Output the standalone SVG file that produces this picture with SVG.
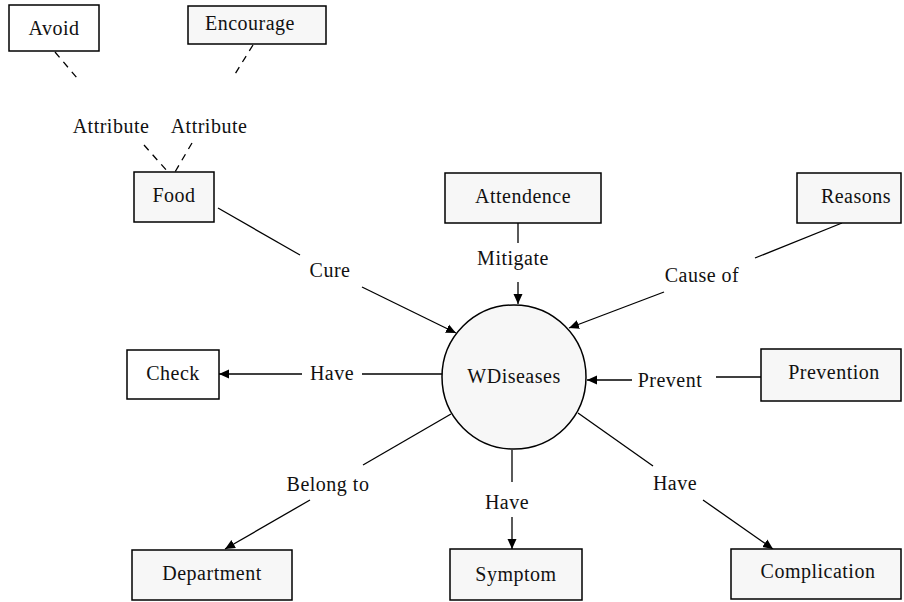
<svg xmlns="http://www.w3.org/2000/svg" width="904" height="602" viewBox="0 0 904 602">
<defs>
<style>
.box{stroke:#000;stroke-width:1.5;fill:#f7f7f7}
.w{fill:#fff}
.t{font-family:"Liberation Serif","Times New Roman",serif;font-size:20px;letter-spacing:0.5px;fill:#111;text-anchor:middle}
.ln{stroke:#000;stroke-width:1.3;fill:none}
.d{stroke-dasharray:7,6}
</style>
<marker id="ah" viewBox="0 0 10 10" refX="10" refY="5" markerWidth="10" markerHeight="10" markerUnits="userSpaceOnUse" orient="auto">
<path d="M0,0.5 L10,5 L0,9.5 Z" fill="#000"/>
</marker>
</defs>
<rect width="904" height="602" fill="#fff"/>
<g id="connectors">
<line class="ln d" x1="55" y1="52" x2="77" y2="78"/>
<line class="ln d" x1="253" y1="45" x2="235" y2="74"/>
<line class="ln d" x1="144" y1="145" x2="168" y2="172"/>
<line class="ln d" x1="192" y1="143" x2="175" y2="172"/>
<line class="ln" x1="218" y1="208" x2="300" y2="255"/>
<line class="ln" x1="362" y1="287" x2="456" y2="333" marker-end="url(#ah)"/>
<line class="ln" x1="518" y1="223" x2="518" y2="243"/>
<line class="ln" x1="518" y1="282" x2="518" y2="304" marker-end="url(#ah)"/>
<line class="ln" x1="842" y1="223" x2="755" y2="258"/>
<line class="ln" x1="664" y1="292" x2="569" y2="328" marker-end="url(#ah)"/>
<line class="ln" x1="761" y1="377" x2="716" y2="377"/>
<line class="ln" x1="632" y1="380" x2="587" y2="380" marker-end="url(#ah)"/>
<line class="ln" x1="443" y1="374" x2="362" y2="374"/>
<line class="ln" x1="302" y1="374" x2="219" y2="374" marker-end="url(#ah)"/>
<line class="ln" x1="451" y1="414" x2="363" y2="465"/>
<line class="ln" x1="310" y1="500" x2="225" y2="549" marker-end="url(#ah)"/>
<line class="ln" x1="512" y1="450" x2="512" y2="482"/>
<line class="ln" x1="512" y1="517" x2="512" y2="549" marker-end="url(#ah)"/>
<line class="ln" x1="578" y1="413" x2="653" y2="466"/>
<line class="ln" x1="703" y1="500" x2="773" y2="549" marker-end="url(#ah)"/>
</g>
<g id="labels">
<text class="t" x="111" y="133">Attribute</text>
<text class="t" x="209" y="133">Attribute</text>
<text class="t" x="330" y="277">Cure</text>
<text class="t" x="513" y="265">Mitigate</text>
<text class="t" x="702" y="282">Cause of</text>
<text class="t" x="670" y="387">Prevent</text>
<text class="t" x="332" y="380">Have</text>
<text class="t" x="328" y="491">Belong to</text>
<text class="t" x="507" y="509">Have</text>
<text class="t" x="675" y="490">Have</text>
</g>
<g id="WDiseases">
<circle cx="514" cy="377" r="72" class="box"/>
<text class="t" x="514" y="383">WDiseases</text>
</g>
<g id="Avoid"><rect x="9" y="5" width="90" height="46" class="box w"/><text class="t" x="54" y="35">Avoid</text></g>
<g id="Encourage"><rect x="188" y="6" width="138" height="38" class="box"/><text class="t" x="250" y="30">Encourage</text></g>
<g id="Food"><rect x="134" y="172" width="80" height="50" class="box"/><text class="t" x="174" y="202">Food</text></g>
<g id="Attendence"><rect x="445" y="173" width="156" height="50" class="box"/><text class="t" x="523" y="203">Attendence</text></g>
<g id="Reasons"><rect x="797" y="173" width="104" height="50" class="box"/><text class="t" x="856" y="203">Reasons</text></g>
<g id="Check"><rect x="127" y="350" width="92" height="49" class="box w"/><text class="t" x="173" y="380">Check</text></g>
<g id="Prevention"><rect x="761" y="349" width="140" height="52" class="box"/><text class="t" x="834" y="379">Prevention</text></g>
<g id="Department"><rect x="132" y="550" width="160" height="50" class="box"/><text class="t" x="212" y="580">Department</text></g>
<g id="Symptom"><rect x="450" y="549" width="132" height="51" class="box"/><text class="t" x="516" y="581">Symptom</text></g>
<g id="Complication"><rect x="731" y="549" width="170" height="50" class="box"/><text class="t" x="818" y="578">Complication</text></g>
</svg>
